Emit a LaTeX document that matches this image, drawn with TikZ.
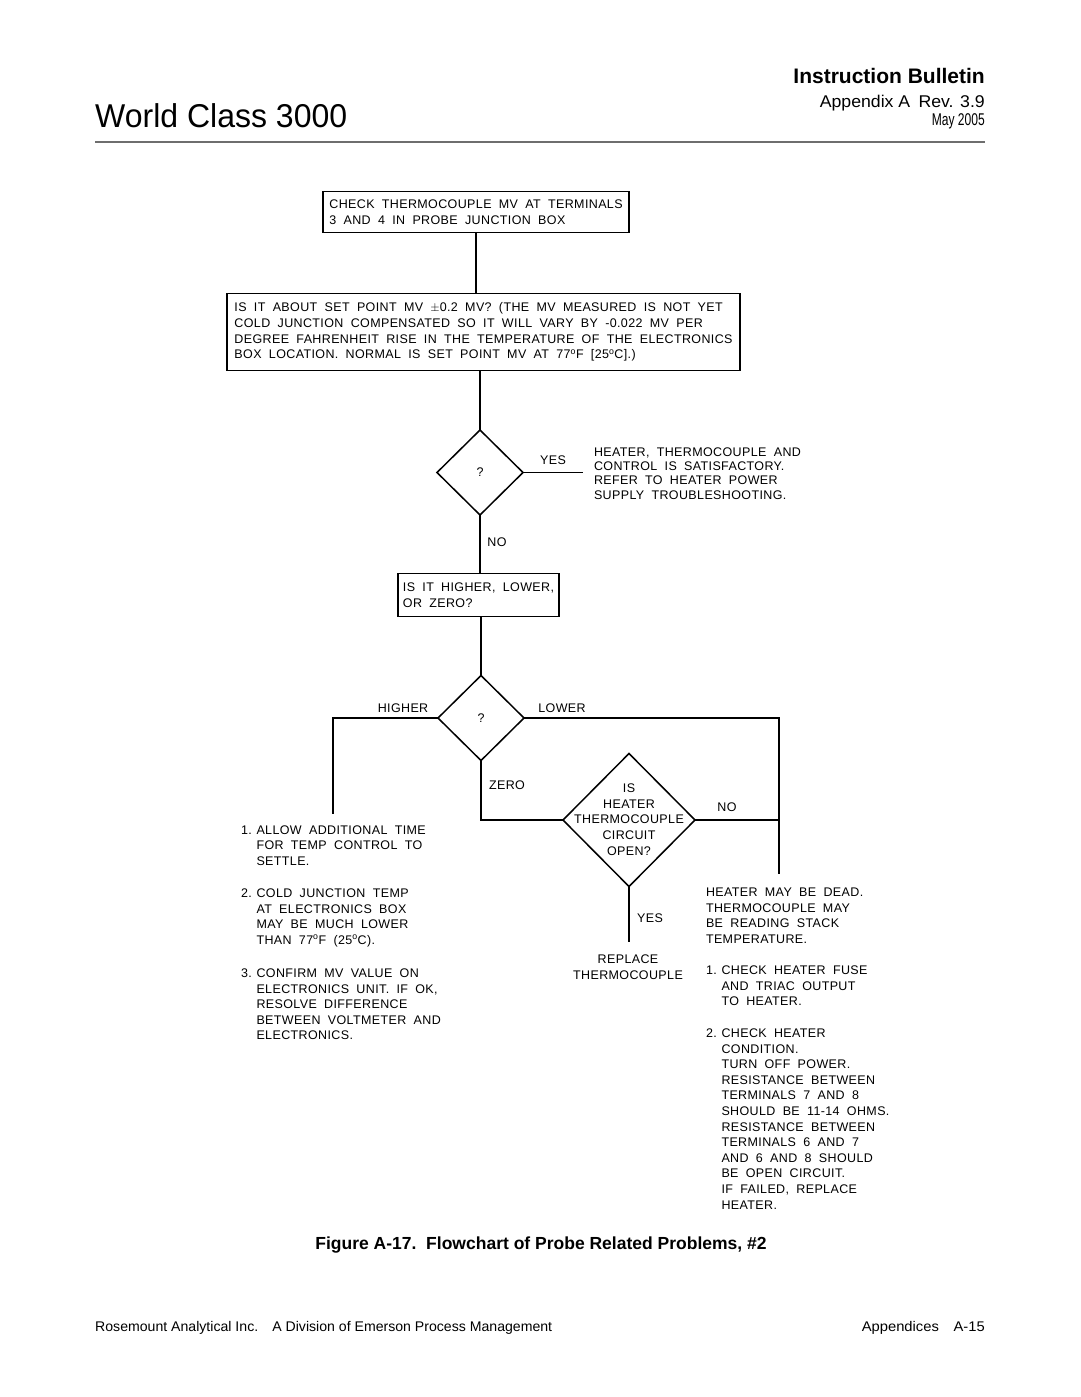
\documentclass[tikz,border=0pt]{standalone}
\usepackage{fontspec}
\usepackage{graphicx}
\setmainfont{Liberation Sans}
\newfontfamily\bodyfont[LetterSpace=3,WordSpace=1.9]{Liberation Sans}
\usetikzlibrary{shapes.geometric}
\newcommand\bodytext{\bodyfont\fontsize{12.5}{15.6}\selectfont}
\newcommand\yestext{\bodyfont\fontsize{12.5}{14.2}\selectfont}
\newcommand\ind{\hspace*{15.5pt}}
\newcommand\num[1]{\makebox[15.5pt][l]{#1}}
\definecolor{rulegray}{RGB}{110,110,110}
\begin{document}
\begin{tikzpicture}[x=1pt,y=-1pt,
  txt/.style={inner sep=0pt, outer sep=0pt, font=\bodytext, align=left},
  lbl/.style={inner sep=0pt, outer sep=0pt, font=\bodytext, anchor=base},
  box/.style={draw, line width=1.8pt, rectangle, inner sep=0pt, outer sep=0pt, align=left, font=\bodytext},
  dia/.style={draw, line width=1.5pt, diamond, inner sep=0pt, outer sep=0pt, font=\bodytext},
  conn/.style={draw, line width=1.5pt}]
\useasboundingbox (0,0) rectangle (1080,1397);

% header
\node[inner sep=0pt, anchor=base west] (title) at (95,127)
  {\resizebox{252pt}{\height}{\fontsize{33}{36}\selectfont World Class 3000}};
\node[inner sep=0pt, anchor=base east] (ib) at (985,84)
  {\fontsize{21}{24}\selectfont\bfseries Instruction Bulletin};
\node[inner sep=0pt, anchor=base east] (app) at (985,107)
  {\resizebox{165pt}{\height}{\fontsize{17}{19}\selectfont Appendix A\hspace{8pt}Rev. 3.9}};
\node[inner sep=0pt, anchor=base east] (may) at (985,125.5)
  {\resizebox{53pt}{\height}{\fontsize{17}{19}\selectfont May 2005}};
\coordinate (ruleL) at (95,142);
\coordinate (ruleR) at (985,142);
\draw[rulegray, line width=1.6pt] (ruleL) -- (ruleR);

% boxes
\node[box, minimum width=306pt, minimum height=41pt] (box1) at (476,212)
  {CHECK THERMOCOUPLE MV AT TERMINALS\\3 AND 4 IN PROBE JUNCTION BOX};
\node[box, minimum width=513pt, minimum height=77pt] (box2) at (483.5,332)
  {IS IT ABOUT SET POINT MV $\pm$0.2 MV? (THE MV MEASURED IS NOT YET\\
   COLD JUNCTION COMPENSATED SO IT WILL VARY BY -0.022 MV PER\\
   DEGREE FAHRENHEIT RISE IN THE TEMPERATURE OF THE ELECTRONICS\\
   BOX LOCATION. NORMAL IS SET POINT MV AT 77\textsuperscript{o}F [25\textsuperscript{o}C].)};
\node[dia, minimum width=86pt, minimum height=85pt] (d1) at (480,472.5) {?};
\node[box, minimum width=161pt, minimum height=43pt] (box3) at (478.5,595)
  {IS IT HIGHER, LOWER,\\OR ZERO?};
\node[dia, minimum width=86pt, minimum height=85pt] (d2) at (481,718) {?};
\node[dia, minimum width=132pt, minimum height=133pt] (d3) at (629,820) {};
\node[txt, align=center, anchor=center] (d3text) at (629,819.5)
  {IS\\HEATER\\THERMOCOUPLE\\CIRCUIT\\OPEN?};

% connectors
\coordinate (d1yes) at (583,472.5);
\coordinate (hlend) at (333,814);
\coordinate (lrend) at (779,874);
\coordinate (yesend) at (629,942);
\draw[conn] (box1.south) -- (box1.south |- box2.north);
\draw[conn] (box2.south -| d1.north) -- (d1.north);
\draw[conn] (d1.east) -- (d1yes);
\draw[conn] (d1.south) -- (d1.south |- box3.north);
\draw[conn] (box3.south -| d2.north) -- (d2.north);
\draw[conn] (d2.west) -| (hlend);
\draw[conn] (d2.east) -| (lrend);
\draw[conn] (d2.south) |- (d3.west);
\draw[conn] (d3.east) -- (d3.east -| lrend);
\draw[conn] (d3.south) -- (yesend);

% connector labels
\node[lbl] (yes1) at (553,464.5) {YES};
\node[lbl] (no1) at (497,546.5) {NO};
\node[lbl] (higher) at (403,712.5) {HIGHER};
\node[lbl] (lower) at (562,712.5) {LOWER};
\node[lbl] (zero) at (507,789.5) {ZERO};
\node[lbl] (no2) at (727,811.5) {NO};
\node[lbl] (yes2) at (650,922.5) {YES};

% texts (base anchor = baseline of the last line)
\node[txt, font=\yestext, anchor=base west] (sat) at (594,499.1)
  {HEATER, THERMOCOUPLE AND\\CONTROL IS SATISFACTORY.\\REFER TO HEATER POWER\\SUPPLY TROUBLESHOOTING.};
\node[txt, align=center, anchor=base] (rep) at (628,979.1)
  {REPLACE\\THERMOCOUPLE};

\node[txt, anchor=base west] (l1) at (241,865.2)
  {\num{1.}ALLOW ADDITIONAL TIME\\\ind FOR TEMP CONTROL TO\\\ind SETTLE.};
\node[txt, anchor=base west] (l2) at (241,944.3)
  {\num{2.}COLD JUNCTION TEMP\\\ind AT ELECTRONICS BOX\\\ind MAY BE MUCH LOWER\\\ind THAN 77\textsuperscript{o}F (25\textsuperscript{o}C).};
\node[txt, anchor=base west] (l3) at (241,1039.9)
  {\num{3.}CONFIRM MV VALUE ON\\\ind ELECTRONICS UNIT. IF OK,\\\ind RESOLVE DIFFERENCE\\\ind BETWEEN VOLTMETER AND\\\ind ELECTRONICS.};

\node[txt, anchor=base west] (r0) at (706,943.3)
  {HEATER MAY BE DEAD.\\THERMOCOUPLE MAY\\BE READING STACK\\TEMPERATURE.};
\node[txt, anchor=base west] (r1) at (706,1005.7)
  {\num{1.}CHECK HEATER FUSE\\\ind AND TRIAC OUTPUT\\\ind TO HEATER.};
\node[txt, anchor=base west] (r2) at (706,1209.1)
  {\num{2.}CHECK HEATER\\\ind CONDITION.\\\ind TURN OFF POWER.\\\ind RESISTANCE BETWEEN\\\ind TERMINALS 7 AND 8\\\ind SHOULD BE 11-14 OHMS.\\\ind RESISTANCE BETWEEN\\\ind TERMINALS 6 AND 7\\\ind AND 6 AND 8 SHOULD\\\ind BE OPEN CIRCUIT.\\\ind IF FAILED, REPLACE\\\ind HEATER.};

% caption and footer
\node[inner sep=0pt, anchor=base] (cap) at (541,1249)
  {\fontsize{17.5}{20}\selectfont\bfseries Figure A-17.\ \ Flowchart of Probe Related Problems, \#2};
\node[inner sep=0pt, anchor=base west] (foot1) at (95,1331)
  {\resizebox{457pt}{\height}{\fontsize{14}{16}\selectfont Rosemount Analytical Inc.\hspace{14pt}A Division of Emerson Process Management}};
\node[inner sep=0pt, anchor=base east] (foot2) at (985,1331)
  {\resizebox{123pt}{\height}{\fontsize{14}{16}\selectfont Appendices\hspace{14pt}A-15}};
\end{tikzpicture}
\end{document}
